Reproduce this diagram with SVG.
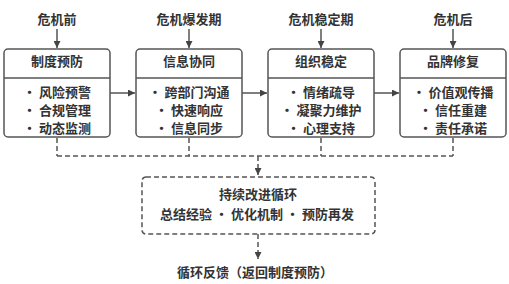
<svg xmlns="http://www.w3.org/2000/svg" width="509" height="284" viewBox="0 0 509 284">
<style>
text{font-family:"Noto Sans CJK SC","Noto Sans",sans-serif;font-size:13px;fill:#333;font-weight:bold;text-anchor:middle}
.box{fill:#fff;stroke:#555;stroke-width:1.5}
.line{stroke:#555;stroke-width:1.5;fill:none}
.dash{stroke:#555;stroke-width:1.5;fill:none;stroke-dasharray:5 3}
</style>
<defs>
<marker id="ah" viewBox="0 0 10 10" refX="10" refY="5" markerWidth="7" markerHeight="7" markerUnits="userSpaceOnUse" orient="auto">
<path d="M0,0 L10,5 L0,10 z" fill="#444"/>
</marker>
</defs>
<rect width="509" height="284" fill="#fff"/>
<g id="connectors">
<line class="line" x1="57" y1="29" x2="57" y2="48" marker-end="url(#ah)"/>
<line class="line" x1="189" y1="29" x2="189" y2="48" marker-end="url(#ah)"/>
<line class="line" x1="321" y1="29" x2="321" y2="48" marker-end="url(#ah)"/>
<line class="line" x1="453" y1="29" x2="453" y2="48" marker-end="url(#ah)"/>
<line class="line" x1="110" y1="93" x2="135" y2="93" marker-end="url(#ah)"/>
<line class="line" x1="242" y1="93" x2="267" y2="93" marker-end="url(#ah)"/>
<line class="line" x1="374" y1="93" x2="399" y2="93" marker-end="url(#ah)"/>
<path class="dash" d="M57,138 V156 M189,138 V156 M321,138 V156 M453,138 V156 M57,156 H453"/>
<line class="dash" x1="258" y1="156" x2="258" y2="175" marker-end="url(#ah)"/>
<line class="dash" x1="258" y1="234" x2="258" y2="259" marker-end="url(#ah)"/>
</g>
<g id="label-before"><text x="57" y="24">危机前</text></g>
<g id="label-outbreak"><text x="189" y="24">危机爆发期</text></g>
<g id="label-stable"><text x="321" y="24">危机稳定期</text></g>
<g id="label-after"><text x="453" y="24">危机后</text></g>
<g id="node-prevent">
<rect class="box" x="4" y="49" width="106" height="88" rx="4"/>
<line class="line" x1="4" y1="78" x2="110" y2="78"/>
<text x="57" y="66">制度预防</text>
<text x="57" y="97">• 风险预警</text>
<text x="57" y="115">• 合规管理</text>
<text x="57" y="133">• 动态监测</text>
</g>
<g id="node-coord">
<rect class="box" x="136" y="49" width="106" height="88" rx="4"/>
<line class="line" x1="136" y1="78" x2="242" y2="78"/>
<text x="189" y="66">信息协同</text>
<text x="189" y="97">• 跨部门沟通</text>
<text x="189" y="115">• 快速响应</text>
<text x="189" y="133">• 信息同步</text>
</g>
<g id="node-stabilize">
<rect class="box" x="268" y="49" width="106" height="88" rx="4"/>
<line class="line" x1="268" y1="78" x2="374" y2="78"/>
<text x="321" y="66">组织稳定</text>
<text x="321" y="97">• 情绪疏导</text>
<text x="321" y="115">• 凝聚力维护</text>
<text x="321" y="133">• 心理支持</text>
</g>
<g id="node-repair">
<rect class="box" x="400" y="49" width="106" height="88" rx="4"/>
<line class="line" x1="400" y1="78" x2="506" y2="78"/>
<text x="453" y="66">品牌修复</text>
<text x="453" y="97">• 价值观传播</text>
<text x="453" y="115">• 信任重建</text>
<text x="453" y="133">• 责任承诺</text>
</g>
<g id="node-improve">
<rect class="dash" x="142" y="177" width="233" height="57" rx="4"/>
<text x="258" y="199">持续改进循环</text>
<text x="257" y="219">总结经验 • 优化机制 • 预防再发</text>
</g>
<g id="node-feedback">
<text x="255" y="277">循环反馈（返回制度预防）</text>
</g>
</svg>
